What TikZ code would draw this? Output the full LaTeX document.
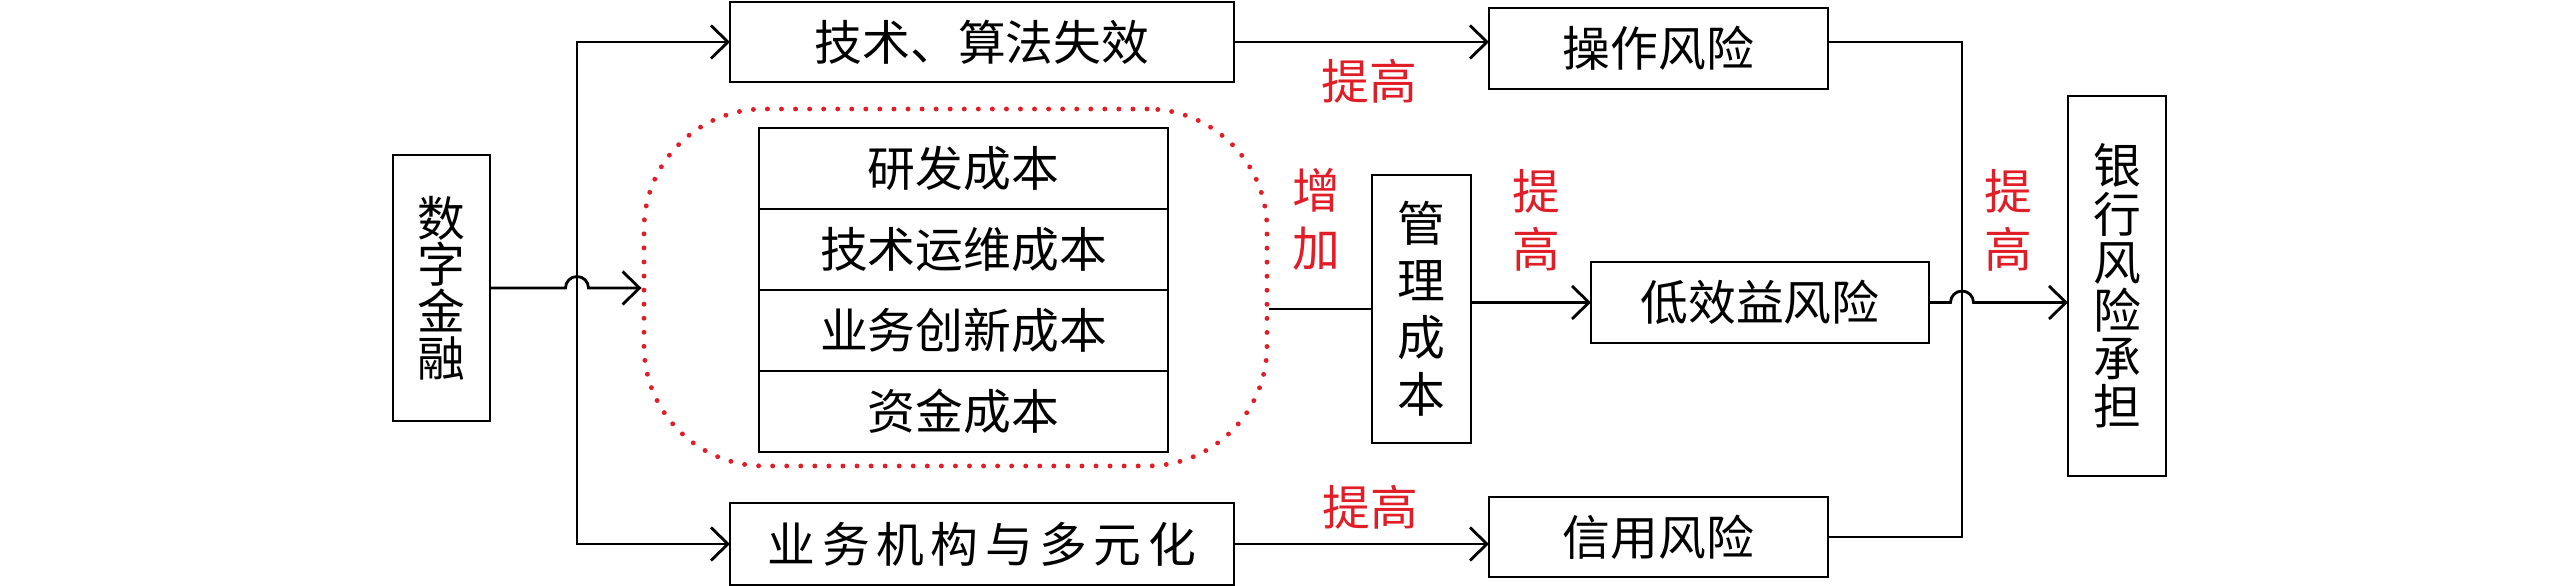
\documentclass[tikz,border=0pt]{standalone}
\usepackage{fontspec}
\setmainfont{Noto Sans CJK SC}
\newfontfamily\widecjk{Noto Sans CJK SC}[LetterSpace=13.7]
\usetikzlibrary{arrows.meta,positioning}
\definecolor{hired}{RGB}{225,30,40}

\begin{document}
\begin{tikzpicture}[->,>={Straight Barb[length=1.7mm,width=3.3mm]},line width=0.8pt,
  font=\fontsize{13.6pt}{13.6pt}\selectfont,
  box/.style={draw,inner sep=0pt,outer sep=0pt,minimum height=8.1mm},
  vbox/.style={draw,inner sep=0pt,outer sep=0pt,align=center,
    font=\fontsize{13.6pt}{13.3pt}\selectfont},
  costs/.style={draw=hired,dash pattern=on 0pt off 4pt,line cap=round,line width=1.4pt,
    rounded corners=12mm,minimum width=62.3mm,minimum height=35.7mm},
  lbl/.style={text=hired},
  vlbl/.style={text=hired,align=center,font=\fontsize{13.6pt}{16.5pt}\selectfont}]

\useasboundingbox (0,0) rectangle (25.59,5.86);

\node[vbox,minimum width=9.7mm,minimum height=26.6mm] (shuzi) at (4.415,2.98) {数\\字\\金\\融};
\node[box,minimum width=50.4mm,minimum height=8mm] (jishu) at (9.82,5.44) {技术、算法失效};
\node[box,minimum width=50.4mm,minimum height=8.2mm] (yewu) at (9.82,0.42) {\widecjk 业务机构与多元化};

\node[costs] (cost) at (9.555,2.985) {};
\node[box,minimum width=40.9mm] (c1) at (9.635,4.175) {研发成本};
\node[box,minimum width=40.9mm] (c2) [below=0pt of c1] {技术运维成本};
\node[box,minimum width=40.9mm] (c3) [below=0pt of c2] {业务创新成本};
\node[box,minimum width=40.9mm] (c4) [below=0pt of c3] {资金成本};

\node[vbox,minimum width=9.9mm,minimum height=26.8mm,
  font=\fontsize{13.6pt}{16.2pt}\selectfont] (guanli) at (14.215,2.77) {管\\理\\成\\本};
\node[box,minimum width=33.9mm] (caozuo) at (16.585,5.375) {操作风险};
\node[box,minimum width=33.8mm] (dixiao) at (17.60,2.835) {低效益风险};
\node[box,minimum width=33.9mm,minimum height=8mm] (xinyong) at (16.585,0.49) {信用风险};
\node[vbox,minimum width=9.8mm,minimum height=38mm,
  font=\fontsize{13.6pt}{13.7pt}\selectfont] (yinhang) at (21.17,3.00) {银\\行\\风\\险\\承\\担};

\coordinate (lbus) at (5.77,2.98);
\coordinate (rbus) at (19.62,2.84);

\draw[<->] (jishu.west) -| (lbus) |- (yewu.west);
\draw (shuzi.east) -- ([xshift=-1.15mm]lbus |- shuzi.east)
  arc[start angle=180,end angle=0,radius=1.15mm] -- (cost.west |- shuzi.east);

\draw (jishu.east) -- (jishu.east -| caozuo.west)
  node[lbl,midway,xshift=0.8mm,yshift=-3.9mm] (t1) {提高};
\draw (yewu.east) -- (yewu.east -| xinyong.west)
  node[lbl,midway,xshift=0.9mm,yshift=3.7mm] (t2) {提高};
\draw[-] (cost.east |- guanli.west) -- (guanli.west)
  node[vlbl,midway,xshift=-0.4mm,yshift=9mm] (z1) {增\\加};
\draw (guanli.east |- dixiao.west) -- (dixiao.west)
  node[vlbl,midway,xshift=0.5mm,yshift=8.2mm] (t3) {提\\高};

\draw[-] (caozuo.east |- jishu.east) -| (rbus) |- (xinyong.east);
\draw (dixiao.east) -- ([xshift=-1.15mm]rbus |- dixiao.east)
  arc[start angle=180,end angle=0,radius=1.15mm] -- (yinhang.west |- dixiao.east)
  node[vlbl,midway,xshift=-1.2mm,yshift=8.2mm] (t4) {提\\高};

\end{tikzpicture}
\end{document}
